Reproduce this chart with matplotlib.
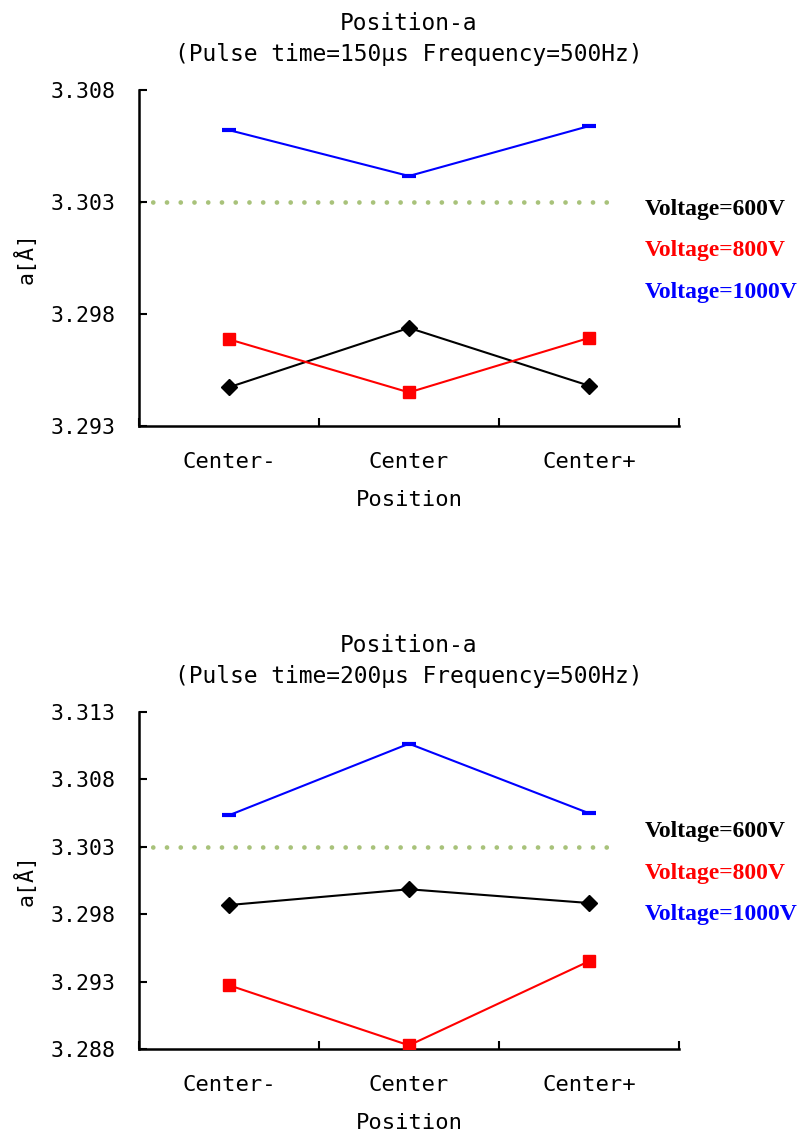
import matplotlib
matplotlib.use("Agg")
import matplotlib.pyplot as plt

positions = ["Center-", "Center", "Center+"]
voltage_labels = ["Voltage=600V", "Voltage=800V", "Voltage=1000V"]
series_colors = ["black", "red", "blue"]
reference_a = 3.303

# Pulse time = 150 us
a_150_600v = [3.29473, 3.29738, 3.29480]
a_150_800v = [3.29687, 3.29450, 3.29693]
a_150_1000v = [3.30621, 3.30416, 3.30639]
yticks_150 = [3.293, 3.298, 3.303, 3.308]

# Pulse time = 200 us
a_200_600v = [3.29868, 3.29985, 3.29883]
a_200_800v = [3.29273, 3.28827, 3.29451]
a_200_1000v = [3.30534, 3.31065, 3.30549]
yticks_200 = [3.288, 3.293, 3.298, 3.303, 3.308, 3.313]

MONO = "DejaVu Sans Mono"
FS = 15.5

fig = plt.figure(figsize=(7.98, 11.33), dpi=100)
ax_top = fig.add_axes([139 / 798, 1 - 426 / 1133, 540 / 798, 336 / 1133])
ax_bot = fig.add_axes([139 / 798, 1 - 1049 / 1133, 540 / 798, 337 / 1133])


def draw_panel(ax, title, s600, s800, s1000, yticks):
    xs = [0.5, 1.5, 2.5]
    ax.plot([0, 2.63], [reference_a, reference_a], color="#a8c27a", lw=3.4,
            linestyle=(0, (0.01, 2.9)), dash_capstyle="round", zorder=1)
    ax.plot(xs, s600, color="black", lw=1.5, marker="D", ms=8.5, zorder=3)
    ax.plot(xs, s800, color="red", lw=1.5, marker="s", ms=8.5, zorder=3)
    ax.plot(xs, s1000, color="blue", lw=1.5, marker="_", ms=10, mew=3, zorder=3)

    ax.set_xlim(0, 3)
    ax.set_ylim(yticks[0], yticks[-1])
    ax.set_yticks(yticks)
    ax.set_yticklabels([f"{v:.3f}" for v in yticks], fontfamily=MONO, fontsize=FS)
    ax.set_xticks([0, 1, 2, 3])
    ax.set_xticklabels([])
    ax.set_xticks(xs, minor=True)
    ax.set_xticklabels(positions, minor=True, fontfamily=MONO, fontsize=16)
    ax.tick_params(axis="x", which="major", direction="in", length=6, width=1.5)
    ax.tick_params(axis="x", which="minor", length=0, pad=19)
    ax.tick_params(axis="y", direction="in", length=6, width=1.5, pad=17)

    for side in ("top", "right"):
        ax.spines[side].set_visible(False)
    for side in ("left", "bottom"):
        ax.spines[side].set_linewidth(1.8)

    ax.set_title(title, fontfamily=MONO, fontsize=16.5, pad=21, linespacing=1.45)
    ax.set_xlabel("Position", fontfamily=MONO, fontsize=16, labelpad=13)
    ax.set_ylabel("a[Å]", fontfamily=MONO, fontsize=FS)
    ax.yaxis.set_label_coords(-0.19, 0.5)

    for label, color, yf in zip(voltage_labels, series_colors, [0.645, 0.522, 0.398]):
        ax.text(0.937, yf, label, transform=ax.transAxes, color=color,
                fontfamily="Liberation Serif", fontweight="bold", fontsize=17,
                ha="left", va="center", clip_on=False)


draw_panel(ax_top, "Position-a\n(Pulse time=150μs Frequency=500Hz)",
           a_150_600v, a_150_800v, a_150_1000v, yticks_150)
draw_panel(ax_bot, "Position-a\n(Pulse time=200μs Frequency=500Hz)",
           a_200_600v, a_200_800v, a_200_1000v, yticks_200)

fig.savefig("out.png", dpi=100)
